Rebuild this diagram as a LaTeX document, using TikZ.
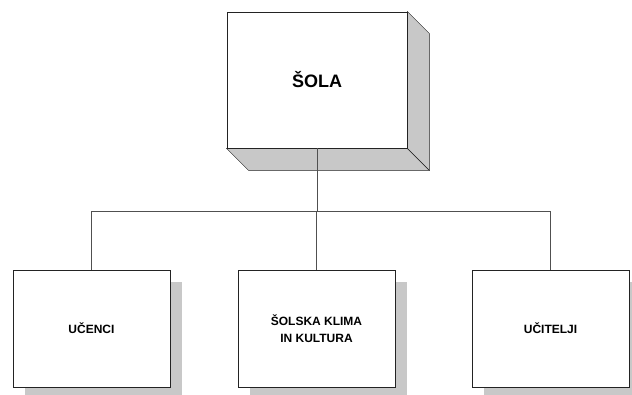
\documentclass[tikz,border=0pt]{standalone}
\usepackage{fontspec}
\setmainfont{Liberation Sans}
\usetikzlibrary{calc}
\usetikzlibrary{backgrounds}
\definecolor{facegray}{RGB}{200,200,200}
\definecolor{boxline}{RGB}{35,35,35}
\definecolor{linkline}{RGB}{80,80,80}

\begin{document}
\begin{tikzpicture}[x=1pt, y=-1pt, line width=0.8pt,
  rootbox/.style={draw=boxline, fill=white, inner sep=0pt, minimum width=180pt, minimum height=136pt,
    font=\fontsize{18}{20}\selectfont\bfseries},
  kidbox/.style={draw=boxline, fill=white, inner sep=0pt, minimum width=157pt, minimum height=117pt,
    align=center, font=\fontsize{12}{17}\selectfont\bfseries},
  level/.style={sibling distance=230pt, level distance=248.5pt},
  edge from parent/.style={draw=linkline},
  edge from parent path={(\tikzparentnode.south) -- ++(0,63) -| (\tikzchildnode.north)}]
  \useasboundingbox (0,0) rectangle (632,394);
  \node[name=sola, rootbox] at (317,80) {ŠOLA}
   child{
    node[name=ucenci, kidbox, xshift=4.5pt] {UČENCI}
   }
   child{
    node[name=klima, kidbox, xshift=-0.5pt] {ŠOLSKA KLIMA\\IN KULTURA}
   }
   child{
    node[name=ucitelji, kidbox, xshift=3.5pt] {UČITELJI}
   }
;
\begin{scope}[on background layer]
  \filldraw[fill=facegray, draw=boxline] (sola.south west) -- ($(sola.south west)+(22,22)$)
    -- ($(sola.south east)+(22,22)$) -- (sola.south east) -- cycle;
  \filldraw[fill=facegray, draw=boxline] (sola.north east) -- ($(sola.north east)+(22,22)$)
    -- ($(sola.south east)+(22,22)$) -- (sola.south east) -- cycle;
  \fill[facegray] ($(ucenci.south west)+(12,12)$) rectangle ($(ucenci.north east)+(12,12)$);
  \fill[facegray] ($(klima.south west)+(12,12)$) rectangle ($(klima.north east)+(12,12)$);
  \fill[facegray] ($(ucitelji.south west)+(12,12)$) rectangle ($(ucitelji.north east)+(12,12)$);
\end{scope}
\end{tikzpicture}
\end{document}
